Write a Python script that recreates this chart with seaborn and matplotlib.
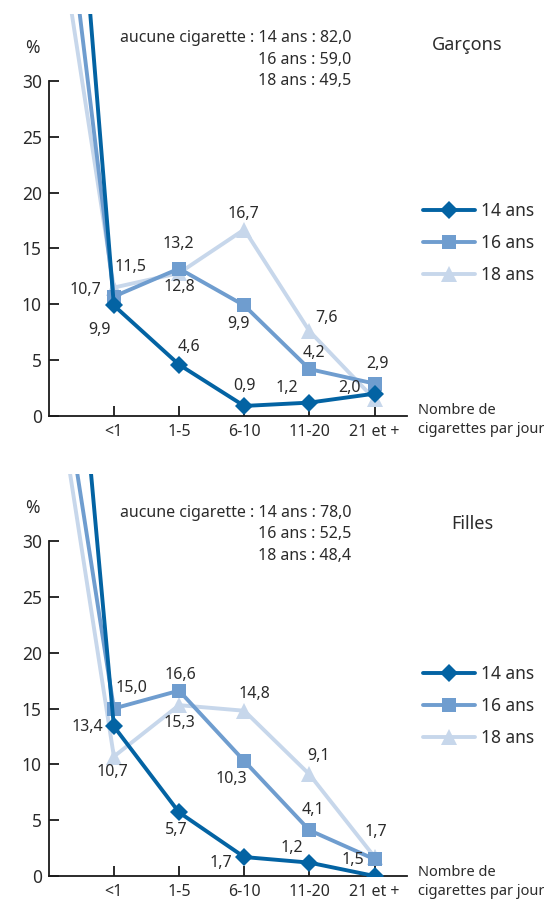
import numpy as np
import pandas as pd
import matplotlib.pyplot as plt
import seaborn as sns
from matplotlib.lines import Line2D

# categories (position 0 = "aucune cigarette", drawn off the top of the chart)
categories = ["aucune", "<1", "1-5", "6-10", "11-20", "21 et +"]
ages = ["14 ans", "16 ans", "18 ans"]

garcons_14 = [82.0, 9.9, 4.6, 0.9, 1.2, 2.0]
garcons_16 = [59.0, 10.7, 13.2, 9.9, 4.2, 2.9]
garcons_18 = [49.5, 11.5, 12.8, 16.7, 7.6, 1.5]

filles_14 = [78.0, 13.4, 5.7, 1.7, 1.2, 0.0]
filles_16 = [52.5, 15.0, 16.6, 10.3, 4.1, 1.5]
filles_18 = [48.4, 10.7, 15.3, 14.8, 9.1, 1.7]

# which points get a value label (index 0 is never labelled)
garcons_shown = {"14 ans": [1, 2, 3, 4, 5], "16 ans": [1, 2, 3, 4, 5], "18 ans": [1, 2, 3, 4]}
filles_shown = {"14 ans": [1, 2, 3, 4], "16 ans": [1, 2, 3, 4, 5], "18 ans": [1, 2, 3, 4, 5]}

# label offsets in pixels (dx, dy), per point index 1..5
garcons_off = {
    "14 ans": [(-14, -25), (10, 18), (0, 20), (-23, 15), (-25, 6)],
    "16 ans": [(-28, 7), (-1, 25), (-6, -19), (5, 16), (3, 20)],
    "18 ans": [(17, 21), (0, -14), (-1, 16), (17, 13), (0, 0)],
}
filles_off = {
    "14 ans": [(-26, -1), (-3, -18), (-23, -6), (-18, 15), (0, 0)],
    "16 ans": [(18, 21), (1, 16), (-13, -18), (4, 20), (-22, -1)],
    "18 ans": [(-1, -15), (0, -18), (10, 17), (9, 18), (1, 25)],
}

colors = {"14 ans": "#0363a3", "16 ans": "#6f9dcf", "18 ans": "#c7d7eb"}
markers = {"14 ans": "D", "16 ans": "s", "18 ans": "^"}
msizes = {"14 ans": 9, "16 ans": 10, "18 ans": 11}
text_col = "#2b2b2b"

sns.set_style("ticks")
plt.rcParams["font.family"] = ["Noto Sans", "DejaVu Sans"]
plt.rcParams["text.color"] = text_col


def make_df(v14, v16, v18):
    rows = []
    for age, vals in zip(ages, [v14, v16, v18]):
        for i, v in enumerate(vals):
            rows.append({"pos": i, "cat": categories[i], "age": age, "val": v})
    return pd.DataFrame(rows)


def draw_panel(ax, df, shown, offsets):
    for age in ages[::-1]:
        sub = df[df["age"] == age]
        sns.lineplot(data=sub, x="pos", y="val", ax=ax, color=colors[age],
                     marker=markers[age], markersize=msizes[age],
                     markeredgewidth=0, linewidth=2.8, legend=False,
                     zorder=3 if age == "14 ans" else 2)
        for i in shown[age]:
            v = sub["val"].iloc[i]
            dx, dy = offsets[age][i - 1]
            ax.annotate(f"{v:.1f}".replace(".", ","), (i, v), xytext=(dx, dy),
                        textcoords="offset pixels", ha="center", va="center",
                        fontsize=11.5, color=text_col)
    ax.set_xlim(0, 5.5)
    ax.set_ylim(0, 36)
    ax.set_yticks(np.arange(0, 31, 5))
    ax.set_xticks(np.arange(1, 6))
    ax.set_xticklabels(categories[1:])
    ax.set_xlabel("")
    ax.set_ylabel("")
    sns.despine(ax=ax)
    ax.spines["left"].set_bounds(0, 30)
    for s in ["left", "bottom"]:
        ax.spines[s].set_linewidth(1.3)
        ax.spines[s].set_color("#1a1a1a")
    ax.tick_params(direction="in", length=7, width=1.3, color="#1a1a1a",
                   labelsize=12.5, labelcolor=text_col)
    ax.tick_params(axis="x", pad=6, labelsize=11.5)
    ax.tick_params(axis="y", pad=5)
    handles = [Line2D([], [], color=colors[a], marker=markers[a], markersize=msizes[a],
                      markeredgewidth=0, linewidth=2.8) for a in ages]
    return handles


fig = plt.figure(figsize=(5.44, 9.02), dpi=100)
ax1 = fig.add_axes([0.0895, 0.5388, 0.659, 0.4457])
ax2 = fig.add_axes([0.0895, 0.0288, 0.659, 0.4457])

h = draw_panel(ax1, make_df(garcons_14, garcons_16, garcons_18), garcons_shown, garcons_off)
ax1.legend(h, ages, loc="center left", bbox_to_anchor=(1.02, 0.43), frameon=False,
           fontsize=12.5, handlelength=3.0, handletextpad=0.35, labelspacing=0.8,
           borderpad=0, labelcolor=text_col)
h = draw_panel(ax2, make_df(filles_14, filles_16, filles_18), filles_shown, filles_off)
ax2.legend(h, ages, loc="center left", bbox_to_anchor=(1.02, 0.423), frameon=False,
           fontsize=12.5, handlelength=3.0, handletextpad=0.35, labelspacing=0.8,
           borderpad=0, labelcolor=text_col)

# header notes
fs = 11.5
x_r = 351 / 544
fig.text(x_r, 1 - 38 / 902, "aucune cigarette : 14 ans : 82,0", ha="right", va="center", fontsize=fs)
fig.text(x_r, 1 - 60 / 902, "16 ans : 59,0", ha="right", va="center", fontsize=fs)
fig.text(x_r, 1 - 81 / 902, "18 ans : 49,5", ha="right", va="center", fontsize=fs)
fig.text(x_r, 1 - 513 / 902, "aucune cigarette : 14 ans : 78,0", ha="right", va="center", fontsize=fs)
fig.text(x_r, 1 - 534 / 902, "16 ans : 52,5", ha="right", va="center", fontsize=fs)
fig.text(x_r, 1 - 556 / 902, "18 ans : 48,4", ha="right", va="center", fontsize=fs)

fig.text(467 / 544, 1 - 45 / 902, "Garçons", ha="center", va="center", fontsize=13)
fig.text(472 / 544, 1 - 524 / 902, "Filles", ha="center", va="center", fontsize=13)

fig.text(32 / 544, 1 - 48 / 902, "%", ha="center", va="center", fontsize=12.5)
fig.text(32 / 544, 1 - 508 / 902, "%", ha="center", va="center", fontsize=12.5)

fig.text(418 / 544, 1 - 420 / 902, "Nombre de\ncigarettes par jour", ha="left", va="center",
         fontsize=10.5, linespacing=1.3)
fig.text(418 / 544, 1 - 882 / 902, "Nombre de\ncigarettes par jour", ha="left", va="center",
         fontsize=10.5, linespacing=1.3)

fig.savefig("out.png", dpi=100, facecolor="white")
